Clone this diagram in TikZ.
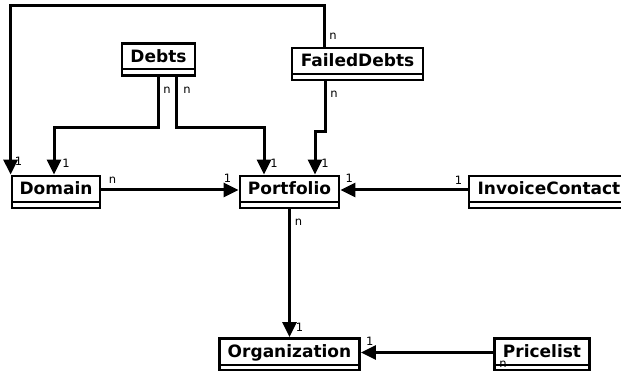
\documentclass[tikz,border=0pt]{standalone}
\usepackage{fontspec}
\setmainfont{DejaVu Sans}
\usetikzlibrary{positioning,arrows.meta}

\begin{document}
\begin{tikzpicture}[x=1pt, y=1pt, on grid, line width=3pt,
    >={Triangle[length=15pt,width=14pt]},
    cls/.style={draw, line width=2.8pt, minimum height=32pt, inner xsep=0pt, inner ysep=0pt,
        text height=19pt, text depth=13pt,
        font=\bfseries\fontsize{17}{20}\selectfont,
        path picture={\draw[line width=2pt]
            ([yshift=6pt]path picture bounding box.south west) --
            ([yshift=6pt]path picture bounding box.south east);}},
    mult/.style={font=\fontsize{11.5}{13}\selectfont, inner sep=0pt}]
    \useasboundingbox (0,0) rectangle (621,-371);

    \node[cls, minimum width=99pt] (Portfolio) at (289.5,-192) {Portfolio};
    \node[cls, minimum width=88pt] (Domain) [left=233.5pt of Portfolio] {Domain};
    \node[cls, minimum width=160pt] (InvoiceContact) [right=259.5pt of Portfolio] {InvoiceContact};
    \node[cls, minimum width=73pt] (Debts) [above left=132.5pt and 131pt of Portfolio] {Debts};
    \node[cls, minimum width=131pt] (FailedDebts) [above right=128pt and 68pt of Portfolio] {FailedDebts};
    \node[cls, minimum width=140pt] (Organization) [below=162.5pt of Portfolio] {Organization};
    \node[cls, minimum width=95pt] (Pricelist) [right=252.5pt of Organization] {Pricelist};

    % loop round the top, FailedDebts to Domain
    \draw[->] ([xshift=-33.5pt]FailedDebts.north) node[mult, xshift=9pt, yshift=10pt] {n}
        -- ++(0,41) -| (Domain.north west) node[mult, xshift=8pt, yshift=13pt] {1};

    \draw[->] ([xshift=-0.5pt]Debts.south) node[mult, xshift=9pt, yshift=-13pt] {n}
        -- ++(0,-50.5) -| ([xshift=-2pt]Domain.north) node[mult, xshift=12pt, yshift=11pt] {1};
    \draw[->] ([xshift=17.5pt]Debts.south) node[mult, xshift=11pt, yshift=-13pt] {n}
        -- ++(0,-50.5) -| ([xshift=-25.5pt]Portfolio.north) node[mult, xshift=10pt, yshift=11pt] {1};
    \draw[->] ([xshift=-32.5pt]FailedDebts.south) node[mult, xshift=9pt, yshift=-13pt] {n}
        -- ++(0,-50) -| ([xshift=25.5pt]Portfolio.north) node[mult, xshift=10pt, yshift=11pt] {1};

    \draw[->] ([yshift=2pt]Domain.east) node[mult, xshift=11pt, yshift=10pt] {n}
        -- ([yshift=2pt]Portfolio.west) node[mult, xshift=-11pt, yshift=12pt] {1};
    \draw[->] ([yshift=2pt]InvoiceContact.west) node[mult, xshift=-9pt, yshift=10pt] {1}
        -- ([yshift=2pt]Portfolio.east) node[mult, xshift=9pt, yshift=12pt] {1};
    \draw[->] (Portfolio.south) node[mult, xshift=9pt, yshift=-13pt] {n}
        -- (Organization.north) node[mult, xshift=10pt, yshift=10pt] {1};
    \draw[->] ([yshift=2pt]Pricelist.west) node[mult, xshift=10pt, yshift=-12pt] {n}
        -- ([yshift=2pt]Organization.east) node[mult, xshift=9pt, yshift=11pt] {1};
\end{tikzpicture}
\end{document}
